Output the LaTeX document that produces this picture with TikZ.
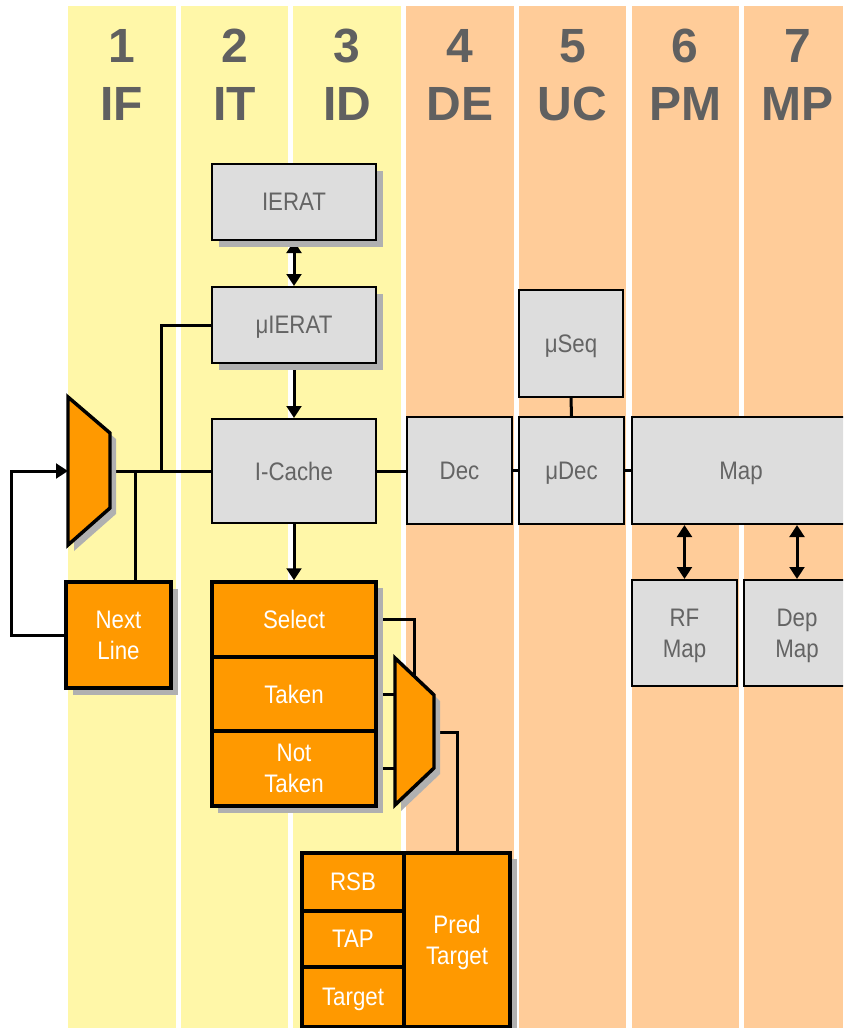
\documentclass[tikz,border=0pt]{standalone}
\usepackage{fontspec}
\setmainfont{Liberation Sans}
\newfontfamily\boxfont[FakeStretch=0.88]{Liberation Sans}
\usetikzlibrary{arrows.meta,shadows,calc}
\definecolor{colY}{RGB}{255,247,168}
\definecolor{colP}{RGB}{255,204,153}
\definecolor{orng}{RGB}{255,153,0}
\definecolor{gbox}{RGB}{221,221,221}
\definecolor{shd}{RGB}{176,176,176}
\definecolor{gtxt}{RGB}{100,100,100}
\definecolor{htxt}{RGB}{96,96,96}
\pgfdeclarelayer{bg}
\pgfdeclarelayer{conn}
\pgfsetlayers{bg,conn,main}
\begin{document}
\begin{tikzpicture}[x=0.75pt,y=-0.75pt,
  graybox/.style={draw=black, line width=1.5pt, fill=gbox, text=gtxt, inner sep=0pt, align=center,
    text depth=0pt, font=\boxfont\fontsize{19}{23.25}\selectfont},
  orgbox/.style={draw=black, line width=2.6pt, fill=orng, text=white, inner sep=0pt, align=center,
    text depth=0pt, font=\boxfont\fontsize{19}{23.25}\selectfont},
  sz/.style n args={2}{minimum width=#1, minimum height=#2},
  shadowed/.style={drop shadow={shadow xshift=5pt, shadow yshift=-5pt, fill=shd, opacity=1}},
  wire/.style={line width=2.25pt, draw=black},
  arr/.style={wire, -{Triangle[length=9pt,width=11pt]}},
  darr/.style={wire, {Triangle[length=9pt,width=11pt]}-{Triangle[length=9pt,width=11pt]}},
  hdr/.style={text=htxt, font=\fontsize{36}{40}\selectfont\bfseries, anchor=base, inner sep=0pt},
  muxshape/.style={draw=black, line width=2.6pt, fill=orng, line join=miter},
]
\useasboundingbox (0,0) rectangle (843,1028);
\clip (0,0) rectangle (843,1028);

% stage columns
\begin{pgfonlayer}{bg}
  \fill[white] (0,0) rectangle (843,1028);
  \foreach \i in {0,1,2} \fill[colY] ({68+\i*112.7},6) rectangle ++(107.5,1022);
  \foreach \i in {3,4,5} \fill[colP] ({68+\i*112.7},6) rectangle ++(107.5,1022);
  \fill[colP] (744.2,6) rectangle (843,1028);
\end{pgfonlayer}

% headers
\foreach \n/\s [count=\k from 0] in {1/IF,2/IT,3/ID,4/DE,5/UC,6/PM,7/MP} {
  \node[hdr] (num\n) at ({121.75+\k*112.7},62.7) {\n};
  \node[hdr] (st\n) at ({121.75+\k*112.7},120) {\s};
}

% gray boxes
\node[graybox, shadowed, sz={123pt}{57pt}] (ierat) at (294,202) {IERAT};
\node[graybox, shadowed, sz={123pt}{57pt}] (muierat) at (294,325) {μIERAT};
\node[graybox, sz={123pt}{78pt}] (icache) at (294,471) {I-Cache};
\node[graybox, sz={78.75pt}{80.25pt}] (dec) at (459.5,470.5) {Dec};
\node[graybox, sz={78.75pt}{80.25pt}] (mudec) at (571.5,470.5) {μDec};
\node[graybox, sz={78pt}{80.25pt}] (museq) at (571,343.5) {μSeq};
\node[graybox, sz={163.5pt}{80.25pt}] (map) at (741,470.5) {Map};
\node[graybox, sz={78.75pt}{79.5pt}] (rfmap) at (684.5,633) {RF\\Map};
\node[graybox, sz={79.5pt}{79.5pt}] (depmap) at (797,633) {Dep\\Map};

% next line
\node[orgbox, shadowed, sz={78.75pt}{79.5pt}] (nextline) at (118.5,635) {Next\\Line};

% select / taken / not taken
\fill[shd] (218,588) rectangle (383,813);
\node[orgbox, sz={123pt}{56.25pt}] (select) at (294,619.5) {Select};
\node[orgbox, sz={123pt}{55.5pt}] (taken) at (294,694) {Taken};
\node[orgbox, sz={123pt}{56.25pt}] (nottaken) at (294,768.5) {Not\\Taken};

% target group
\fill[shd] (308,859) rectangle (517,1034);
\node[orgbox, sz={76.5pt}{43.5pt}] (rsb) at (353,882) {RSB};
\node[orgbox, sz={76.5pt}{42pt}] (tap) at (353,939) {TAP};
\node[orgbox, sz={76.5pt}{45pt}] (target) at (353,997) {Target};
\node[orgbox, sz={79.5pt}{130.5pt}] (pred) at (457,940) {Pred\\Target};

% mux 1
\fill[shd] (74,403) -- (116,439) -- (116,514) -- (74,551) -- cycle;
\draw[muxshape] (68,397) -- (110,433) -- (110,508) -- (68,545) -- cycle;
\coordinate (mux1in) at (68,471);
\coordinate (mux1out) at (110,471);
\coordinate (j1) at (135,471);
\coordinate (j2) at (161,471);

% mux 2
\fill[shd] (401,664) -- (440,701) -- (440,774) -- (401,811) -- cycle;
\draw[muxshape] (395,658) -- (434,695) -- (434,768) -- (395,805) -- cycle;
\coordinate (mux2sel) at (414.3,676);
\coordinate (mux2a) at (395,694);
\coordinate (mux2b) at (395,768);
\coordinate (mux2out) at (434,732);

% connectors
\begin{pgfonlayer}{conn}
  \draw[wire] (mux1out) -- (icache.west);
  \draw[wire] (j1) -- (j1 |- nextline.north);
  \draw[wire] (muierat.west) -| (j2);
  \draw[arr] (nextline.west) -- ++(-53,0) |- (mux1in);
  \draw[darr] (ierat.south) -- (muierat.north);
  \draw[arr] (muierat.south) -- (icache.north);
  \draw[arr] (icache.south) -- (select.north);
  \draw[wire] (icache.east) -- (icache.east -| dec.west);
  \draw[wire] (dec.east) -- (mudec.west);
  \draw[wire] (mudec.east) -- (map.west);
  \draw[wire] (museq.south) -- (mudec.north);
  \draw[darr] (rfmap.north) -- (rfmap.north |- map.south);
  \draw[darr] (depmap.north) -- (depmap.north |- map.south);
  \draw[wire] (select.east) -| (mux2sel);
  \draw[wire] (taken.east |- mux2a) -- (mux2a);
  \draw[wire] (nottaken.east |- mux2b) -- (mux2b);
  \draw[wire] (mux2out) -| (pred.north);
\end{pgfonlayer}
\end{tikzpicture}
\end{document}
